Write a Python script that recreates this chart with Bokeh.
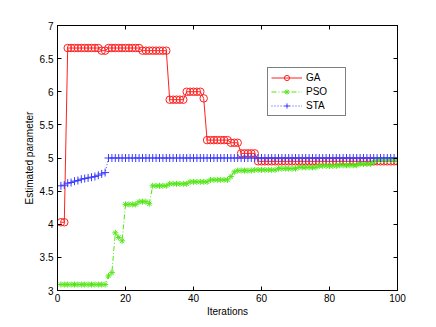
from bokeh.plotting import figure
from bokeh.models import Range1d, FixedTicker, LinearAxis, Legend, LegendItem, CustomJSTickFormatter
from bokeh.embed import file_html
from bokeh.resources import INLINE

iterations = list(range(1, 101))

ga = [4.03, 4.03,
      6.66, 6.66, 6.66, 6.66, 6.66, 6.66, 6.66, 6.66, 6.66, 6.66,
      6.62, 6.62,
      6.66, 6.66, 6.66, 6.66, 6.66, 6.66, 6.66, 6.66, 6.66, 6.66,
      6.62, 6.62, 6.62, 6.62, 6.62, 6.62, 6.62, 6.62,
      5.88, 5.88, 5.88, 5.88, 5.88,
      6.00, 6.00, 6.00, 6.00, 6.00,
      5.90,
      5.27, 5.27, 5.27, 5.27, 5.27, 5.27, 5.27,
      5.23, 5.23, 5.23,
      5.07, 5.07, 5.07, 5.07, 5.07,
      4.95, 4.95, 4.95, 4.95, 4.95, 4.95, 4.95, 4.95, 4.95, 4.95,
      4.95, 4.95, 4.95, 4.95, 4.95, 4.95, 4.95, 4.95, 4.95, 4.95,
      4.95, 4.95, 4.95, 4.95, 4.95, 4.95, 4.95, 4.95, 4.95, 4.95,
      4.95, 4.95, 4.95, 4.95, 4.95, 4.95, 4.95, 4.95, 4.95, 4.95,
      4.95, 4.95]

pso = [3.09, 3.09, 3.09, 3.09, 3.09, 3.09, 3.09, 3.09, 3.09, 3.09, 3.09, 3.09, 3.09, 3.09,
       3.22, 3.27, 3.87, 3.80, 3.75,
       4.30, 4.30, 4.30, 4.30,
       4.34, 4.34, 4.34,
       4.31,
       4.58, 4.58, 4.58, 4.58, 4.58,
       4.61, 4.61, 4.61, 4.61, 4.61, 4.61,
       4.64, 4.64, 4.64, 4.64, 4.64, 4.64,
       4.67, 4.67, 4.67, 4.67, 4.67, 4.67,
       4.72, 4.79,
       4.81, 4.81, 4.81, 4.81, 4.81,
       4.82, 4.82, 4.82, 4.82, 4.82, 4.82, 4.82,
       4.84, 4.84, 4.84, 4.84, 4.84, 4.84,
       4.86, 4.86, 4.86, 4.86, 4.86, 4.86,
       4.88, 4.88, 4.88, 4.88, 4.88, 4.88,
       4.89, 4.89, 4.89, 4.89, 4.89, 4.89,
       4.91, 4.91, 4.91, 4.91,
       4.94,
       4.97, 4.97, 4.97, 4.97, 4.97, 4.97, 4.97]

sta = [4.58, 4.59, 4.62, 4.63, 4.65, 4.66, 4.68, 4.69, 4.70, 4.71, 4.72, 4.74, 4.76, 4.78,
       5.00, 5.00, 5.00, 5.00, 5.00, 5.00, 5.00, 5.00, 5.00, 5.00,
       5.00, 5.00, 5.00, 5.00, 5.00, 5.00, 5.00, 5.00, 5.00, 5.00,
       5.00, 5.00, 5.00, 5.00, 5.00, 5.00, 5.00, 5.00, 5.00, 5.00,
       5.00, 5.00, 5.00, 5.00, 5.00, 5.00, 5.00, 5.00, 5.00, 5.00,
       5.00, 5.00, 5.00, 5.00, 5.00, 5.00, 5.00, 5.00, 5.00, 5.00,
       5.00, 5.00, 5.00, 5.00, 5.00, 5.00, 5.00, 5.00, 5.00, 5.00,
       5.00, 5.00, 5.00, 5.00, 5.00, 5.00, 5.00, 5.00, 5.00, 5.00,
       5.00, 5.00, 5.00, 5.00, 5.00, 5.00, 5.00, 5.00, 5.00, 5.00,
       5.00, 5.00, 5.00, 5.00, 5.00, 5.00]

x_ticks = [0, 20, 40, 60, 80, 100]
y_ticks = [3, 3.5, 4, 4.5, 5, 5.5, 6, 6.5, 7]
y_tick_labels = ["3", "3.5", "4", "4.5", "5", "5.5", "6", "6.5", "7"]

FONT = "Liberation Sans"
RED = "#ff2020"
GREEN = "#55e619"
BLUE = "#3c3cff"

p = figure(width=428, height=319, x_range=Range1d(0, 100), y_range=Range1d(3, 7),
           output_backend="svg", toolbar_location=None,
           min_border_left=57, min_border_right=31, min_border_top=25, min_border_bottom=27)
p.background_fill_color = "white"
p.border_fill_color = "white"
p.outline_line_color = "black"
p.outline_line_width = 1
p.xgrid.visible = False
p.ygrid.visible = False

def style_axis(ax):
    ax.axis_line_color = "black"
    ax.major_tick_in = 4
    ax.major_tick_out = 0
    ax.minor_tick_in = 0
    ax.minor_tick_out = 0
    ax.major_tick_line_color = "black"
    ax.major_label_text_font = FONT
    ax.major_label_text_font_size = "10px"
    ax.major_label_text_color = "black"
    ax.axis_label_text_font = FONT
    ax.axis_label_text_font_size = "10px"
    ax.axis_label_text_font_style = "normal"
    ax.axis_label_text_color = "black"

p.xaxis.ticker = FixedTicker(ticks=x_ticks)
p.yaxis.ticker = FixedTicker(ticks=y_ticks)
p.yaxis.major_label_overrides = {t: l for t, l in zip(y_ticks, y_tick_labels)}
p.xaxis.axis_label = "Iterations"
p.yaxis.axis_label = "Estimated parameter"
style_axis(p.xaxis[0])
style_axis(p.yaxis[0])
p.xaxis.major_label_standoff = 3
p.xaxis.axis_label_standoff = 1
p.yaxis.major_label_standoff = 4
p.yaxis.axis_label_standoff = 2

blank = CustomJSTickFormatter(code="return '';")
top_ax = LinearAxis(ticker=FixedTicker(ticks=x_ticks), formatter=blank)
style_axis(top_ax)
top_ax.major_label_standoff = 0
p.add_layout(top_ax, "above")
right_ax = LinearAxis(ticker=FixedTicker(ticks=y_ticks), formatter=blank)
style_axis(right_ax)
right_ax.major_label_standoff = 0
p.add_layout(right_ax, "right")

ga_line = p.line(iterations, ga, line_color=RED, line_width=1)
ga_pts = p.scatter(iterations, ga, marker="circle", size=7.5, line_color=RED,
                   fill_color=None, line_width=1)
pso_line = p.line(iterations, pso, line_color=GREEN, line_width=1, line_dash="5 2 1 2")
pso_pts = p.scatter(iterations, pso, marker="asterisk", size=6, line_color=GREEN, line_width=1)
sta_line = p.line(iterations, sta, line_color=BLUE, line_width=1, line_dash="1 2")
sta_pts = p.scatter(iterations, sta, marker="cross", size=8, line_color=BLUE, line_width=1)

legend = Legend(items=[
    LegendItem(label="GA", renderers=[ga_line, ga_pts]),
    LegendItem(label="PSO", renderers=[pso_line, pso_pts]),
    LegendItem(label="STA", renderers=[sta_line, sta_pts]),
], location=(210, 174))
legend.border_line_color = "black"
legend.border_line_width = 1
legend.background_fill_color = "white"
legend.background_fill_alpha = 1
legend.label_text_font = FONT
legend.label_text_font_size = "10px"
legend.label_text_color = "black"
legend.glyph_width = 31
legend.glyph_height = 13
legend.label_standoff = 4
legend.label_height = 13
legend.label_width = 36
legend.spacing = 1
legend.padding = 3
legend.margin = 0
p.add_layout(legend)

open("out.html", "w").write(file_html(p, INLINE))
